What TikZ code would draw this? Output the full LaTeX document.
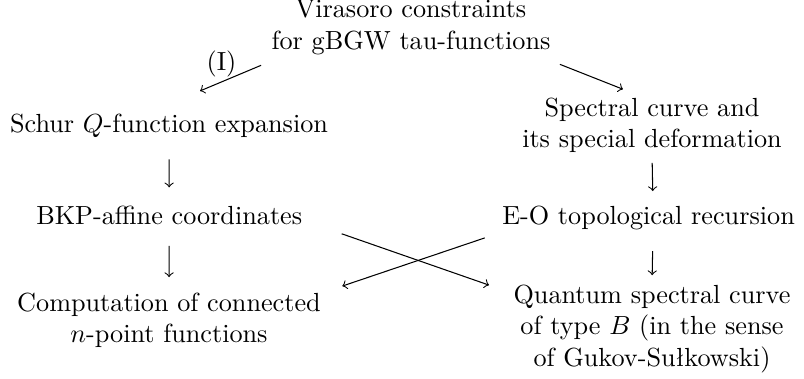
\documentclass[tikz,border=0pt]{standalone}
\usetikzlibrary{calc}

\begin{document}
\begin{tikzpicture}[
  >=to,line width=0.4pt,
  item/.style={align=center,inner sep=0pt,anchor=base},
  lab/.style={inner sep=0pt}
]
\useasboundingbox (0,0) rectangle (10.785,-5.084);
% nodes (base = last line)
\node[item] (vir) at (5.513,-0.663) {Virasoro constraints\\for gBGW tau-functions};
\node[item] (schur) at (2.267,-1.784) {Schur $Q$-function expansion};
\node[item] (spec) at (8.746,-1.979) {Spectral curve and\\its special deformation};
\node[item] (bkp) at (2.270,-3.018) {BKP-affine coordinates};
\node[item] (eo) at (8.700,-3.018) {E-O topological recursion};
\node[item] (comp) at (2.267,-4.594) {Computation of connected\\$n$-point functions};
\node[item] (quant) at (8.746,-4.910) {Quantum spectral curve\\of type $B$ (in the sense\\of Gukov-Su\l{}kowski)};
% arrows
\draw[->] ($(vir.south west)+(-0.134,-0.134)$) -- ($(schur.north)+(0.416,0.309)$);
\draw[->] ($(vir.south east)+(0.121,-0.121)$) -- ($(spec.north)+(-0.389,0.105)$);
\node[lab] at (2.971,-0.858) {(I)};
\draw[->,shorten <=0.28cm,shorten >=0.25cm] (schur.south) -- (bkp.north);
\draw[->,shorten <=0.13cm,shorten >=0.2cm] (spec.south) -- ($(eo.north)+(0.06,0)$);
\draw[->,shorten <=0.27cm,shorten >=0.2cm] (bkp.south) -- (comp.north);
\draw[->,shorten <=0.27cm,shorten >=0.12cm] ($(eo.south)+(0.06,0)$) -- ($(quant.north)+(0,0)$);
\draw[->] ($(bkp.south east)+(0.523,-0.107)$) -- ($(quant.north west)+(-0.322,-0.013)$);
\draw[->] ($(eo.south west)+(-0.228,-0.094)$) -- ($(comp.north east)+(0.282,0.08)$);
\end{tikzpicture}
\end{document}
